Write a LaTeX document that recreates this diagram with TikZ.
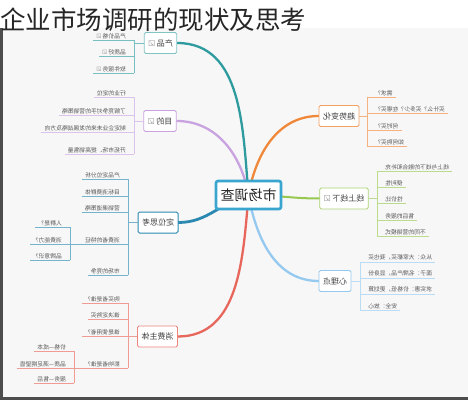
\documentclass[tikz,border=0pt]{standalone}
\usepackage{fontspec}
\usepackage{graphicx}
\usetikzlibrary{backgrounds}
\newfontfamily\cjk{Noto Sans CJK SC}
\newfontfamily\symfont{DejaVu Sans}
\newcommand{\mir}[1]{\reflectbox{#1}}
\newcommand{\boxmark}{{\color{black!45}\symfont ☑}}
\definecolor{tealc}{HTML}{2E9C9E}
\definecolor{purc}{HTML}{C9A3E0}
\definecolor{bluec}{HTML}{2B88B0}
\definecolor{redc}{HTML}{E8675C}
\definecolor{orac}{HTML}{F0883A}
\definecolor{grnc}{HTML}{96C850}
\definecolor{skyc}{HTML}{96C9F0}
\definecolor{hubc}{HTML}{3AA6D0}
\definecolor{panelc}{HTML}{F7F7F7}
\definecolor{framec}{HTML}{4D4D4D}

\begin{document}
\begin{tikzpicture}[x=1pt, y=1pt,
    topic/.style={draw=#1, fill=white, rounded corners=1.5pt, line width=.8pt,
                  inner xsep=4pt, minimum height=21pt, text=black!75,
                  font=\cjk\fontsize{8}{8}\selectfont},
    leaf/.style={inner xsep=3pt, inner ysep=1.2pt, text=black!65,
                 font=\cjk\fontsize{5.8}{6}\selectfont,
                 append after command={(\tikzlastnode.south west) edge[twig=#1] (\tikzlastnode.south east)}},
    leafL/.style={leaf=#1, anchor=south east, execute at end node={\hspace{5pt}}},
    leafR/.style={leaf=#1, anchor=south west, execute at begin node={\hspace{5pt}}},
    twig/.style={draw=#1!65, line width=.7pt},
    limb/.style={draw=#1, line width=2.3pt, line cap=round}]
    \useasboundingbox (0,0) rectangle (468,400);

    \node[anchor=west, inner sep=0pt, text=black!85,
          font=\cjk\fontsize{25.5}{26}\selectfont] (title) at (0,380) {企业市场调研的现状及思考};

    \node[topic=hubc, line width=2.6pt, rounded corners=2pt, minimum width=65pt,
          minimum height=28pt, text=black!85, font=\cjk\fontsize{14}{14}\selectfont]
                                    (hub)       at (248.5,205) {\mir{市场调查}};
    \node[topic=tealc!60]           (yan)       at (160.5,357) {\mir{产品\,\boxmark}};
    \node[topic=purc]               (mudi)      at (160,279)   {\mir{目的\,\boxmark}};
    \node[topic=bluec, line width=1pt] (dingwei) at (158,177.5) {\mir{定位思考}};
    \node[topic=redc!80]            (zhuti)     at (157.5,63.5) {\mir{消费主体}};
    \node[topic=orac!80]            (qushi)     at (339,284)   {\mir{趋势变化}};
    \node[topic=grnc!80]            (xianshang) at (344,201.5) {\mir{线上线下\,\boxmark}};
    \node[topic=skyc]               (xinli)     at (335,119)   {\mir{心理点}};

    \node[leafL=tealc] (yan1) at (134,360) {\mir{产品价格\,\boxmark}};
    \node[leafL=tealc] (yan2) at (134,344) {\mir{品质好\,\boxmark}};
    \node[leafL=tealc] (yan3) at (134,327) {\mir{软件服务\,\boxmark}};
    \draw[twig=tealc] (yan1.south east) -- (yan3.south east);
    \draw[twig=tealc] (yan.west) -- (yan.west -| yan1.south east);

    \node[leafL=purc] (mudi1) at (134,303) {\mir{行业的定位}};
    \node[leafL=purc] (mudi2) at (134,285) {\mir{了解竞争对手的营销策略}};
    \node[leafL=purc] (mudi3) at (134,268) {\mir{制定企业未来的发展战略及方向}};
    \node[leafL=purc] (mudi4) at (134,246) {\mir{开拓市场、提高销售量}};
    \draw[twig=purc] (mudi1.south east) -- (mudi4.south east);
    \draw[twig=purc] (mudi.west) -- (mudi.west -| mudi1.south east);

    \node[leafL=bluec] (dw1) at (128,221) {\mir{产品定位分析}};
    \node[leafL=bluec] (dw2) at (128,204) {\mir{目标消费群体}};
    \node[leafL=bluec] (dw3) at (128,188) {\mir{营销渠道策略}};
    \node[leafL=bluec] (dw4) at (128,156) {\mir{消费者的特征}};
    \node[leafL=bluec] (dw5) at (128,125) {\mir{市场的竞争}};
    \draw[twig=bluec] (dw1.south east) -- (dw5.south east);
    \draw[twig=bluec] (dingwei.west) -- (dingwei.west -| dw1.south east);
    \node[leafL=bluec] (dws1) at (70,173) {\mir{人群是？}};
    \node[leafL=bluec] (dws2) at (70,156) {\mir{消费能力？}};
    \node[leafL=bluec] (dws3) at (70,140) {\mir{品牌意识？}};
    \draw[twig=bluec] (dws1.south east) -- (dws3.south east);
    \draw[twig=bluec] (dws2.south east) -- (dw4.south west);

    \node[leafL=redc] (zt1) at (128,97) {\mir{购买者是谁？}};
    \node[leafL=redc] (zt2) at (128,81) {\mir{谁决定购买}};
    \node[leafL=redc] (zt3) at (128,64) {\mir{谁是使用者？}};
    \node[leafL=redc] (zt4) at (128,32) {\mir{影响者是谁？}};
    \draw[twig=redc] (zt1.south east) -- (zt4.south east);
    \draw[twig=redc] (zhuti.west) -- (zhuti.west -| zt1.south east);
    \node[leafL=redc] (zts1) at (74,49) {\mir{价格—成本}};
    \node[leafL=redc] (zts2) at (74,32) {\mir{品质—满足期望值}};
    \node[leafL=redc] (zts3) at (74,17) {\mir{服务—售后}};
    \draw[twig=redc] (zts1.south east) -- (zts3.south east);
    \draw[twig=redc] (zts2.south east) -- (zt4.south west);

    \node[leafR=orac] (qs1) at (367,303) {\mir{需求？}};
    \node[leafR=orac] (qs2) at (367,287) {\mir{买什么？买多少？在哪买？}};
    \node[leafR=orac] (qs3) at (367,270) {\mir{何时买？}};
    \node[leafR=orac] (qs4) at (367,254) {\mir{如何购买？}};
    \draw[twig=orac] (qs1.south west) -- (qs4.south west);
    \draw[twig=orac] (qushi.east) -- (qushi.east -| qs1.south west);

    \node[leafR=grnc] (xs1) at (377,229) {\mir{线上与线下的融合和补充}};
    \node[leafR=grnc] (xs2) at (377,213) {\mir{便利性}};
    \node[leafR=grnc] (xs3) at (377,197) {\mir{性价比}};
    \node[leafR=grnc] (xs4) at (377,180) {\mir{售后的服务}};
    \node[leafR=grnc] (xs5) at (377,164) {\mir{不同的营销模式}};
    \draw[twig=grnc] (xs1.south west) -- (xs5.south west);
    \draw[twig=grnc] (xianshang.east) -- (xianshang.east -| xs1.south west);

    \node[leafR=skyc] (xl1) at (360,138) {\mir{从众：大家都买，我也买}};
    \node[leafR=skyc] (xl2) at (360,122) {\mir{面子：名牌产品，显身份}};
    \node[leafR=skyc] (xl3) at (360,106) {\mir{求实惠：价格低，更划算}};
    \node[leafR=skyc] (xl4) at (360,90)  {\mir{安全：放心}};
    \draw[twig=skyc] (xl1.south west) -- (xl4.south west);
    \draw[twig=skyc] (xinli.east) -- (xinli.east -| xl1.south west);

    \begin{scope}[on background layer]
        \fill[panelc] (0,0) rectangle (468,372);
        \fill[framec] (0,0) rectangle (3,372);
        \fill[framec] (0,0) rectangle (468,3);
        \draw[limb=tealc] (hub.center) to[out=95, in=0] (yan.east);
        \draw[limb=purc] (hub.center) to[out=100, in=0] (mudi.east);
        \draw[limb=bluec, line width=2.8pt] (hub.center) to[out=195, in=0] (dingwei.east);
        \draw[limb=redc] (hub.center) to[out=265, in=0] (zhuti.east);
        \draw[limb=orac] (hub.center) to[out=80, in=180] (qushi.west);
        \draw[limb=grnc, line width=2pt] (hub.center) to[out=0, in=180] (xianshang.west);
        \draw[limb=skyc] (hub.center) to[out=280, in=180] (xinli.west);
    \end{scope}
\end{tikzpicture}
\end{document}
